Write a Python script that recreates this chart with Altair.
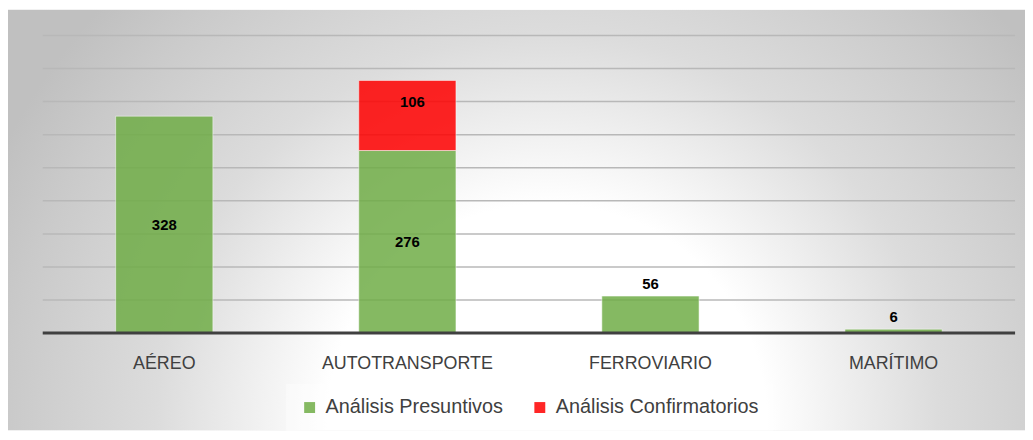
import altair as alt
import pandas as pd

categories = ["AÉREO", "AUTOTRANSPORTE", "FERROVIARIO", "MARÍTIMO"]
series_names = ["Análisis Presuntivos", "Análisis Confirmatorios"]
presuntivos = [328, 276, 56, 6]
confirmatorios = [0, 106, 0, 0]
grid_values = [50, 100, 150, 200, 250, 300, 350, 400, 450]

rows = []
for i, c in enumerate(categories):
    rows.append({"categoria": c, "serie": series_names[0], "orden": 0, "value": presuntivos[i]})
    rows.append({"categoria": c, "serie": series_names[1], "orden": 1, "value": confirmatorios[i]})
df = pd.DataFrame(rows)
grid_df = pd.DataFrame({"g": grid_values})

FONT = "Liberation Sans"

xscale = alt.Scale(domain=categories, paddingInner=0.6, paddingOuter=0.3)
yscale = alt.Scale(domain=[0, 450], nice=False, zero=True)
color_scale = alt.Scale(domain=series_names, range=["#70AD47", "#FF0000"])

bg = alt.Chart(alt.Data(values=[{"a": 1}])).mark_rect(
    fill={
        "gradient": "radial",
        "x1": 0.53, "y1": 0.7, "r1": 0,
        "x2": 0.53, "y2": 0.7, "r2": 0.6,
        "stops": [
            {"offset": 0.0, "color": "#ffffff"},
            {"offset": 0.36, "color": "#ffffff"},
            {"offset": 0.64, "color": "#dcdcdc"},
            {"offset": 0.88, "color": "#cacaca"},
            {"offset": 1.0, "color": "#c0c0c0"},
        ],
    }
).encode(
    x=alt.value(-35), x2=alt.value(990), y=alt.value(-26), y2=alt.value(398)
)

grid = alt.Chart(grid_df).mark_rule(color="#b8b8b8", strokeWidth=1.5).encode(
    y=alt.Y("g:Q", scale=yscale, axis=None)
)

base = alt.Chart(df).transform_filter("datum.value > 0").transform_stack(
    stack="value", groupby=["categoria"], as_=["y0", "y1"],
    sort=[alt.SortField("orden", order="ascending")]
).transform_calculate(mid="(datum.y0 + datum.y1) / 2")

bars = base.mark_bar(opacity=0.85, stroke="#ffffff", strokeOpacity=0.55, strokeWidth=1).encode(
    x=alt.X("categoria:N", sort=categories, scale=xscale, title=None,
            axis=alt.Axis(labelAngle=0, ticks=False, domain=False, labelFontSize=18,
                          labelColor="#404040", labelFont=FONT, labelPadding=22, zindex=2)),
    y=alt.Y("y0:Q", scale=yscale, axis=None),
    y2="y1:Q",
    color=alt.Color("serie:N", scale=color_scale,
                    legend=alt.Legend(title=None, orient="none", direction="horizontal",
                                      legendX=245, legendY=351, zindex=2)),
)

baseline = alt.Chart(alt.Data(values=[{"z": 0}])).mark_rule(color="#404040", strokeWidth=3).encode(
    y=alt.Y("z:Q", scale=yscale, axis=None)
)

lab_big = base.transform_filter(
    "datum.orden == 0 && datum.value >= 100"
).mark_text(fontSize=15, fontWeight="bold", color="black", font=FONT, baseline="middle").encode(
    x=alt.X("categoria:N", sort=categories, scale=xscale),
    y=alt.Y("mid:Q", scale=yscale, axis=None),
    text="value:Q",
)

lab_small = base.transform_filter(
    "datum.orden == 0 && datum.value < 100"
).mark_text(fontSize=15, fontWeight="bold", color="black", font=FONT, baseline="middle", dy=-12).encode(
    x=alt.X("categoria:N", sort=categories, scale=xscale),
    y=alt.Y("y1:Q", scale=yscale, axis=None),
    text="value:Q",
)

lab_conf = base.transform_filter(
    "datum.orden == 1"
).mark_text(fontSize=15, fontWeight="bold", color="black", font=FONT, baseline="middle", dy=-14, dx=5).encode(
    x=alt.X("categoria:N", sort=categories, scale=xscale),
    y=alt.Y("mid:Q", scale=yscale, axis=None),
    text="value:Q",
)

chart = alt.layer(bg, grid, bars, baseline, lab_big, lab_small, lab_conf).properties(
    width=980,
    height=300,
    padding={"left": 35, "top": 26, "right": 10, "bottom": 98},
    autosize=alt.AutoSizeParams(type="none"),
    background="white",
).configure(font=FONT).configure_view(stroke=None).configure_legend(
    labelFont=FONT,
    labelFontSize=20,
    labelColor="#404040",
    symbolType="square",
    symbolSize=121,
    symbolStrokeWidth=0,
    symbolOpacity=0.85,
    columnPadding=27,
    labelOffset=6,
    padding=14,
    fillColor="rgba(255,255,255,0.35)",
    labelLimit=400,
)

chart.save("out.html", embed_options={"renderer": "svg", "actions": False})
